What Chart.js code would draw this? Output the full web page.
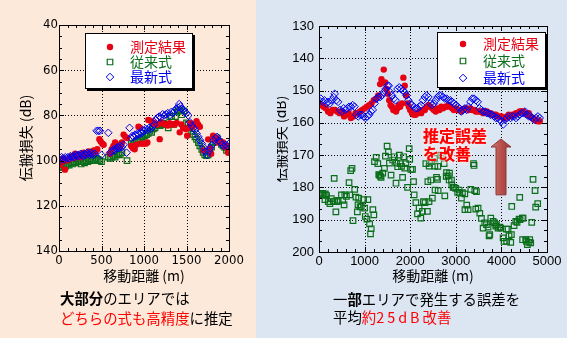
<!DOCTYPE html>
<html lang="ja">
<head>
<meta charset="UTF-8">
<title>伝搬損失 推定比較</title>
<script src="https://cdn.jsdelivr.net/npm/chart.js"></script>
<style>
  body { margin: 0; width: 567px; height: 338px; position: relative; overflow: hidden; font-family: "Noto Sans CJK JP", sans-serif; }
  .panel { position: absolute; top: 0; height: 338px; }
  #panelL { left: 0; width: 256px; background: #fde9d9; }
  #panelR { left: 256px; width: 311px; background: #dce6f2; }
  .note { position: absolute; font-size: 14.4px; line-height: 20px; white-space: nowrap; color: #000; }
  .red { color: #ff0000; }
</style>
</head>
<body>
<div id="panelL" class="panel"></div>
<div id="panelR" class="panel"></div>

<canvas id="chartL" width="256" height="290" style="position:absolute;left:0;top:0"></canvas>
<div style="position:absolute;left:277px;top:0;width:290px;height:290px;overflow:hidden">
  <canvas id="chartR" width="296" height="290" style="position:absolute;left:-6px;top:0"></canvas>
</div>

<div class="note" style="left:60px;top:288px"><b>大部分</b>のエリアでは</div>
<div class="note" style="left:60px;top:308px"><span class="red">どちらの式も高精度</span>に推定</div>
<div class="note" style="left:333px;top:289px">一<b>部</b>エリアで発生する誤差を</div>
<div class="note" style="left:333px;top:307px">平均<span class="red">約<span style="letter-spacing:3px">25dB</span>改善</span></div>

<script>
// ---- data (distance m, loss dB) ----
const seriesNames = ["測定結果", "従来式", "最新式"];

// left chart: 0-2000 m
const leftMeasured = [
  [10,102],[30,101],[50,99],[70,104],[90,100],[110,99.5],[130,99],[150,98],[170,99],[190,97],
  [210,98],[230,97.5],[250,98.5],[270,97],[290,96.5],[310,97.5],[330,97],[350,96],[370,97],[390,96.5],
  [410,95.5],[430,96],[450,95],[475,90.5],[490,91.5],[510,92.5],[525,93],
  [600,97],[620,95],[640,93.5],[660,92],[680,94],[700,93],[720,94],[740,92],[760,88.5],[780,89.5],[800,90],
  [850,93.5],[870,94.5],[890,95],[910,93],[935,85],[955,85.5],[960,92.5],[990,92.5],[1020,92.5],[1040,92],
  [1050,82],[1080,82.5],[1100,83],[1120,83.5],[1140,84],[1160,84],[1185,90.5],[1200,83],[1220,83.5],[1250,84],
  [1280,84.5],[1300,83.5],[1330,84],[1360,84],[1385,83.3],[1420,87.5],[1440,84],[1460,85.5],[1490,86],[1508,89],
  [1530,85.5],[1545,83.5],[1570,85],[1600,84],[1618,82.6],[1637,84],[1657,85],[1700,95.5],
  [1755,90.6],[1775,94.5],[1790,97],[1813,89],[1835,90.5],[1852,90],[1872,92],[1900,91.5],[1931,92],[1950,94],
  [1970,93.5],[1990,96.5]
];
const leftConventional = [
  [0,103],[20,102.5],[40,103],[60,102],[80,102.5],[100,101.5],[120,102],[140,101],[160,101.5],[180,100.5],
  [200,101],[220,100],[240,100.5],[260,101.5],[280,100.5],[300,101],[320,100],[340,100.5],[360,99.5],[380,100],
  [400,99.5],[420,100],[440,99],[460,99.5],[480,100],[500,100.5],
  [580,98.5],[600,99],[620,98.5],[640,98],[660,98.5],[680,97.5],[700,97],[720,97.5],[740,96.5],[800,100],
  [850,92.5],[870,93],[890,92],[910,91.5],[930,91],[950,90.5],[970,89.5],[990,90],[1010,89],[1030,88.5],
  [1050,88],[1070,87],[1090,87.5],[1110,86],[1130,85.5],[1150,84.5],[1170,84],[1190,84.5],[1210,84],[1230,83.5],
  [1250,84],[1285,85.5],[1303,80.6],[1324,80.4],[1350,84],[1370,80.5],[1390,78.5],[1403,77.5],[1420,78],[1442,79.7],
  [1470,78],[1500,83.3],[1520,84],[1540,85.5],[1560,87],[1579,88.4],[1600,89.5],[1618,90.6],[1640,92],[1657,93.5],
  [1680,95],[1696,96.4],[1715,97.5],[1735,97.8],[1755,97.5],[1774,96.4],[1795,94],[1813,92],[1835,91],[1860,89.9],
  [1885,91.5],[1911,92.8],[1930,93.5],[1950,94.2],[1970,95.5],[1990,95]
];
const leftNew = [
  [0,99.5],[15,100],[30,98.5],[45,99],[60,99.5],[75,98.5],[90,99],[105,98.5],[120,99],[135,98],
  [150,98.5],[165,98],[180,98.5],[195,97.5],[210,98],[225,97.5],[240,98],[255,97],[270,97.5],[285,98],
  [300,97],[315,97.5],[330,96.5],[345,97],[360,97.5],[375,96.5],[390,97],[405,97.5],[420,97],
  [443,86.8],[463,86.8],[482,86.8],[500,97.5],[580,87.7],
  [600,96.5],[615,96],[630,95.5],[645,95],[660,95.5],[675,94.5],[690,94],[705,94.5],[720,93.5],[740,94],
  [760,93],[795,96.5],[830,85.5],[850,90],[865,89],[880,89.5],[895,88.5],[910,89],[925,88],[940,88.5],
  [955,87.5],[970,88],[985,86.5],[1000,87],[1020,86],[1040,86.5],[1060,85.5],[1080,86],[1100,85],[1120,84],
  [1140,82],[1160,81],[1180,80.5],[1200,81],[1220,79.5],[1240,80],[1260,79.5],[1280,79],[1300,80],[1320,78.5],
  [1340,79],[1360,78],[1380,77],[1400,76.5],[1414,75],[1428,76],[1442,77],[1460,77.5],[1480,78.5],[1500,79],
  [1520,80],[1540,83],[1560,84.5],[1580,85.5],[1600,86.5],[1620,88],[1640,89.5],[1660,91],[1680,92.5],[1700,94],
  [1720,96],[1740,97.5],[1760,96],[1780,94.5],[1800,93],[1820,91],[1840,90],[1860,89.5],[1880,91],[1900,92],
  [1920,93],[1940,93.5],[1960,93],[1980,93.5],[2000,92.5]
];

// right chart: 0-5000 m
const rightMeasured = [
  [0,154],[50,154.5],[100,155],[150,155.5],[200,156.5],[250,157],[300,156],[350,156],[400,156.5],[450,157],
  [500,156.5],[550,158],[600,157.5],[650,157],[700,158.5],[750,158],[800,157],[850,157],[900,156.5],[950,156],
  [1000,155.5],[1050,155],[1100,154.5],[1150,154],[1200,153],[1250,152.5],[1300,151.5],[1340,148],[1370,146.5],[1420,143.5],
  [1450,147.5],[1480,149.5],[1510,151],[1540,153],[1570,154.5],[1600,155],[1630,156],[1660,155.5],[1690,156.5],[1720,155.5],
  [1750,154.5],[1780,155],[1820,154],[1850,146],[1880,148.5],[1910,151.5],[1940,154],[1970,155],[2000,156],[2040,157],
  [2080,157.5],[2120,157.5],[2160,157],[2200,156.5],[2240,157],[2280,156],[2320,156],[2360,155],[2400,154.5],[2440,155],
  [2480,155.5],[2520,156],[2560,156.5],[2600,155.5],[2640,156],[2680,155],[2720,155.5],[2760,155],[2800,155],[2840,154.5],
  [2880,155],[2920,155.5],[2960,156],[3000,155.5],[3040,156],[3080,156],[3120,156.5],[3160,156],[3200,155.5],[3240,155.5],
  [3280,156],[3320,155.5],[3360,156],[3400,156],[3440,156.5],[3480,156.5],[3520,156.5],[3560,156.5],[3600,157],[3640,156.5],
  [3680,156.5],[3720,157],[3760,157],[3800,157.5],[3840,157.5],[3880,157.5],[3920,158],[3960,158],[4000,158],[4040,158.5],
  [4080,158.5],[4120,158],[4160,157.5],[4200,158],[4240,157.5],[4280,157.5],[4320,157],[4360,157],[4400,156.5],[4440,156.5],
  [4480,156.5],[4520,157],[4560,157.5],[4600,157],[4640,158],[4680,158.5],[4720,159],[4760,159],[4800,159.5],[4840,159.5]
];
const rightConventional = [
  [20,182],[50,182.3],[80,181.8],[110,182.3],[140,182],[166,182.5],[130,183.8],[203,184.4],[239,185],[270,183.5],
  [311,184.4],[347,184.2],[370,187.6],[400,184.4],[420,184],[333,177.2],[492,182.3],[520,184],[550,185.4],[565,182.3],
  [601,182.8],[659,178.5],[695,174.8],[724,174.1],[674,182.3],[746,190.3],[783,180.6],[810,183],[855,185.4],[870,183.3],
  [841,187.6],[900,186],[928,185.9],[978,183.8],[1000,186.4],[1014,189],[1051,189.8],[1072,183.8],[1109,191.3],[1130,194.4],
  [1145,192.8],[1181,186.9],[1203,188.5],[1217,172],[1254,170.7],[1290,172.6],[1310,176],[1326,176.2],[1345,176.5],[1362,176.9],
  [1398,175.6],[1435,174.1],[1457,170.3],[1493,167.2],[1522,169],[1545,172.5],[1580,176.2],[1615,171.5],[1652,170.5],[1689,178.7],
  [1700,172.5],[1725,173.6],[1761,170],[1783,172.6],[1810,173.5],[1833,176.9],[1856,170.5],[1880,174],[1906,172.6],[1942,180],
  [1978,168],[1990,171.3],[2015,174.4],[2051,174.4],[2073,178.2],[2087,182.3],[2124,184.7],[2160,188.2],[2196,186.4],[2232,189.5],
  [2268,187.4],[2290,184.4],[2326,184.7],[2343,172.6],[2377,187.4],[2387,178.2],[2413,184.4],[2416,173.4],[2424,172.5],[2453,177.7],
  [2467,172],[2486,183.3],[2533,171],[2540,173.4],[2545,180.8],[2577,176.9],[2599,177.5],[2606,173.5],[2613,181],[2672,170],
  [2716,170.2],[2745,172.6],[2759,182.6],[2789,176.6],[2796,175.4],[2832,176.4],[2854,177.7],[2862,175.6],[2905,177.7],[2912,179.2],
  [2942,180],[2963,180],[3000,180.3],[3040,181.5],[3073,180.8],[3088,181.8],[3124,183.3],[3146,181.6],[3197,182],[3200,186.9],
  [3240,185.5],[3270,186.9],[3329,180.6],[3387,172.6],[3400,173.2],[3416,181],[3438,186.7],[3453,181.3],[3489,186.4],[3526,188],
  [3562,189.6],[3599,192.6],[3635,191],[3672,191.5],[3708,192.3],[3730,195],[3745,194.6],[3767,189.5],[3818,190.5],[3850,191],
  [3876,192],[3891,191.5],[3927,192.6],[3964,192.3],[3985,192.6],[4037,195.6],[4059,196.7],[4110,192.9],[4115,196.7],[4146,192.9],
  [4168,195],[4205,197],[4219,194.6],[4227,185.9],[4278,191.8],[4314,190.5],[4343,190.8],[4387,189.8],[4402,183.1],[4410,190],
  [4460,189.5],[4465,196.2],[4475,189.5],[4533,196.2],[4548,196.7],[4570,197.7],[4606,197],[4621,196.2],[4643,197.2],[4665,190.8],
  [4694,177.5],[4738,181],[4752,186.1],[4796,185]
];
const rightNew = [
  [0,153],[40,152.5],[80,153.5],[120,153],[160,154],[200,153.5],[240,154],[280,153],[320,152],[345,151],
  [380,153],[420,153.5],[460,156],[500,156.5],[540,155.5],[580,156],[620,155.5],[660,155],[700,155],[740,154.5],
  [780,155],[820,157.5],[860,158],[900,157.5],[940,157.5],[980,158],[1020,158.5],[1060,158],[1100,157.5],[1140,156.5],
  [1180,156],[1220,154],[1260,152.5],[1300,152],[1340,152],[1380,151.5],[1420,150.5],[1460,149.5],[1500,148.5],[1530,148.5],
  [1560,150.5],[1600,151.5],[1640,152.5],[1680,153],[1720,149.5],[1760,149],[1800,149.5],[1840,150],[1880,150.5],[1920,151.5],
  [1960,153],[2000,154],[2040,154.5],[2080,155],[2120,155.5],[2160,155.5],[2200,155],[2240,154.5],[2280,153],[2320,152],
  [2360,151.5],[2400,152],[2440,154],[2480,154.5],[2520,154],[2560,153],[2600,152],[2640,151.5],[2680,151.5],[2720,152],
  [2760,152.5],[2800,152.5],[2840,153],[2880,153],[2920,153.5],[2960,154],[3000,154.5],[3040,155],[3080,155.5],[3120,156.5],
  [3160,156],[3200,155.5],[3240,156],[3280,155],[3320,153.5],[3360,152.5],[3400,152.5],[3440,153],[3480,153.5],[3520,155.5],
  [3560,156],[3600,156.5],[3640,156.5],[3680,157],[3720,157],[3760,157.5],[3800,157.5],[3840,158],[3880,158.5],[3920,158.5],
  [3960,159],[4000,159.5],[4040,160.5],[4080,159],[4120,158.5],[4160,158],[4200,158.5],[4240,158],[4280,158],[4320,158.5],
  [4360,158],[4400,157.5],[4440,157],[4480,157],[4520,156.5],[4560,157.5],[4600,158],[4640,158],[4680,158.5],[4720,159],
  [4760,158.5],[4800,158],[4840,158.5]
];

const RED = "#e60012";
const GREEN = "#0b6e1a";
const BLUE = "#0000f0";
const TITLE_FONT = { family: '"Noto Sans CJK JP", sans-serif', size: 14 };

// marker shapes shared by points and legend
function marker(ctx, style, r, x, y) {
  ctx.beginPath();
  if (style === "circle") {
    ctx.arc(x, y, r, 0, Math.PI * 2);
  } else if (style === "rect") {
    const s = r * Math.SQRT1_2;
    ctx.rect(x - s, y - s, 2 * s, 2 * s);
  } else {
    ctx.moveTo(x, y - r); ctx.lineTo(x + r, y); ctx.lineTo(x, y + r); ctx.lineTo(x - r, y); ctx.closePath();
  }
}

// grid, frame, inward ticks, legend box and notes
const decor = {
  id: "decor",
  beforeDatasetsDraw(chart, args, o) {
    const { ctx, chartArea: a, scales: { x, y } } = chart;
    ctx.save();
    ctx.strokeStyle = "#000";
    ctx.lineWidth = 1;
    ctx.setLineDash([1, 2]);
    x.ticks.forEach((t) => {
      if (t.value <= x.min || t.value >= x.max) return;
      const p = Math.round(x.getPixelForValue(t.value)) + 0.5;
      ctx.beginPath(); ctx.moveTo(p, a.top); ctx.lineTo(p, a.bottom); ctx.stroke();
    });
    y.ticks.forEach((t) => {
      if (t.value <= y.min || t.value >= y.max) return;
      const p = Math.round(y.getPixelForValue(t.value)) + 0.5;
      ctx.beginPath(); ctx.moveTo(a.left, p); ctx.lineTo(a.right, p); ctx.stroke();
    });
    ctx.restore();
  },
  afterDatasetsDraw(chart, args, o) {
    const { ctx, chartArea: a, scales: { x, y } } = chart;
    ctx.save();
    ctx.strokeStyle = "#000";
    ctx.lineWidth = 1;
    ctx.setLineDash([]);

    const ticks = (scale, step, len) => {
      const n = Math.round((scale.max - scale.min) / step);
      for (let i = 0; i <= n; i++) {
        const p = Math.round(scale.getPixelForValue(scale.min + i * step)) + 0.5;
        ctx.beginPath();
        if (scale.isHorizontal()) {
          ctx.moveTo(p, a.bottom); ctx.lineTo(p, a.bottom - len);
          ctx.moveTo(p, a.top); ctx.lineTo(p, a.top + len);
        } else {
          ctx.moveTo(a.left, p); ctx.lineTo(a.left + len, p);
          ctx.moveTo(a.right, p); ctx.lineTo(a.right - len, p);
        }
        ctx.stroke();
      }
    };
    ticks(x, o.xMinor, 3);
    ticks(x, o.xMajor, 5);
    ticks(y, o.yMinor, 3);
    ticks(y, o.yMajor, 5);
    ctx.strokeRect(Math.round(a.left) + 0.5, Math.round(a.top) + 0.5, Math.round(a.width), Math.round(a.height));

    // legend
    const lg = o.legend;
    ctx.fillStyle = "#000";
    ctx.fillRect(lg.x + 2, lg.y + 2, lg.w, lg.h);
    ctx.fillStyle = "#fff";
    ctx.fillRect(lg.x, lg.y, lg.w, lg.h);
    ctx.strokeRect(lg.x + 0.5, lg.y + 0.5, lg.w - 1, lg.h - 1);
    ctx.font = '14px "Noto Sans CJK JP", sans-serif';
    ctx.textBaseline = "middle";
    chart.data.datasets.forEach((ds, i) => {
      const yy = lg.rows[i];
      marker(ctx, ds.pointStyle, ds.pointRadius, lg.mx, yy);
      if (ds.pointStyle === "circle") {
        ctx.fillStyle = ds.pointBackgroundColor; ctx.fill();
      } else {
        ctx.strokeStyle = ds.pointBorderColor; ctx.lineWidth = ds.pointBorderWidth; ctx.stroke();
      }
      ctx.fillStyle = ds.pointBorderColor;
      ctx.fillText(ds.label, lg.tx, yy);
    });

    // arrow + note (right chart only)
    if (o.arrow) {
      const ax = Math.round(x.getPixelForValue(o.arrow.x));
      const top = y.getPixelForValue(o.arrow.tip);
      const bot = y.getPixelForValue(o.arrow.base);
      const g = ctx.createLinearGradient(ax - 10, 0, ax + 10, 0);
      g.addColorStop(0, "#d27c78");
      g.addColorStop(0.5, "#b84f4b");
      g.addColorStop(1, "#983c39");
      ctx.beginPath();
      ctx.moveTo(ax, top);
      ctx.lineTo(ax + 10, top + 8);
      ctx.lineTo(ax + 5, top + 8);
      ctx.lineTo(ax + 5, bot);
      ctx.lineTo(ax - 5, bot);
      ctx.lineTo(ax - 5, top + 8);
      ctx.lineTo(ax - 10, top + 8);
      ctx.closePath();
      ctx.fillStyle = g;
      ctx.fill();
      ctx.strokeStyle = "#8a3735";
      ctx.lineWidth = 1;
      ctx.stroke();
    }
    if (o.note) {
      ctx.font = 'bold 16px "Noto Sans CJK JP", sans-serif';
      ctx.textBaseline = "middle";
      ctx.fillStyle = "#ff0000";
      ctx.shadowColor = "rgba(255,235,235,1)";
      ctx.shadowBlur = 4;
      const nx = x.getPixelForValue(o.note.x);
      o.note.lines.forEach((ln) => {
        const ny = y.getPixelForValue(ln.y);
        ctx.fillText(ln.text, nx, ny);
        ctx.fillText(ln.text, nx, ny);
      });
    }
    ctx.restore();
  },
};

function toPts(pairs) {
  return pairs.map((p) => ({ x: p[0], y: p[1] }));
}

function makeChart(id, cfg) {
  return new Chart(document.getElementById(id), {
    type: "scatter",
    data: {
      datasets: [
        { label: seriesNames[0], data: toPts(cfg.meas), pointStyle: "circle", pointRadius: 3.2,
          pointBackgroundColor: RED, pointBorderColor: RED, pointBorderWidth: 0, order: 1 },
        { label: seriesNames[1], data: toPts(cfg.conv), pointStyle: "rect", pointRadius: 3.9,
          pointBackgroundColor: "rgba(0,0,0,0)", pointBorderColor: GREEN, pointBorderWidth: 1.2, order: 2 },
        { label: seriesNames[2], data: toPts(cfg.newm), pointStyle: "rectRot", pointRadius: 3.8,
          pointBackgroundColor: "rgba(0,0,0,0)", pointBorderColor: BLUE, pointBorderWidth: 1, order: 0 },
      ],
    },
    options: {
      responsive: false,
      animation: false,
      events: [],
      layout: { padding: { left: 0, top: cfg.top, right: cfg.right, bottom: 0 } },
      plugins: {
        legend: { display: false },
        tooltip: { enabled: false },
        decor: cfg.decor,
      },
      scales: {
        x: {
          type: "linear",
          min: cfg.xMin, max: cfg.xMax,
          ticks: { stepSize: cfg.decor.xMajor, font: cfg.tickFont, color: "#000", padding: 2, maxRotation: 0, autoSkip: false,
                   callback: (v) => String(v) },
          grid: { display: false, drawTicks: false },
          border: { display: false },
          title: { display: true, text: "移動距離 (m)", font: TITLE_FONT, color: "#000", padding: { top: 0, bottom: 5.6 } },
          afterFit: (s) => { s.height = cfg.xAxisH; },
        },
        y: {
          type: "linear",
          reverse: true,
          min: cfg.yMin, max: cfg.yMax,
          ticks: { stepSize: cfg.decor.yMajor, font: cfg.tickFont, color: "#000", padding: cfg.yPad, autoSkip: false,
                   callback: (v) => String(v) },
          grid: { display: false, drawTicks: false },
          border: { display: false },
          title: { display: true, text: "伝搬損失 (dB)", font: TITLE_FONT, color: "#000", padding: { top: cfg.yTitlePad, bottom: 0 } },
          afterFit: (s) => { s.width = cfg.yAxisW; },
        },
      },
    },
    plugins: [decor],
  });
}

// left chart
makeChart("chartL", {
  meas: leftMeasured, conv: leftConventional, newm: leftNew,
  xMin: 0, xMax: 2000, yMin: 40, yMax: 140,
  top: 25, right: 27, xAxisH: 39, yAxisW: 59, yPad: 1, yTitlePad: 17.6,
  tickFont: { family: '"Liberation Sans Narrow", "DejaVu Sans Condensed", "Liberation Sans", sans-serif', size: 13 },
  decor: {
    xMajor: 500, xMinor: 100, yMajor: 20, yMinor: 5,
    legend: { x: 85, y: 33, w: 108, h: 56, mx: 110, tx: 130, rows: [47, 62, 77] },
  },
});

// right chart
makeChart("chartR", {
  meas: rightMeasured, conv: rightConventional, newm: rightNew,
  xMin: 0, xMax: 5000, yMin: 130, yMax: 200,
  top: 26, right: 20, xAxisH: 38, yAxisW: 48, yPad: 5, yTitlePad: 1.5,
  tickFont: { family: '"Liberation Sans", sans-serif', size: 13 },
  decor: {
    xMajor: 1000, xMinor: 200, yMajor: 10, yMinor: 10 / 3,
    legend: { x: 166, y: 32, w: 109, h: 56, mx: 192, tx: 212, rows: [44, 61, 78] },
    arrow: { x: 4000, tip: 165, base: 182.3 },
    note: { x: 2280, lines: [{ text: "推定誤差", y: 164.1 }, { text: "を改善", y: 169.6 }] },
  },
});
</script>
</body>
</html>
